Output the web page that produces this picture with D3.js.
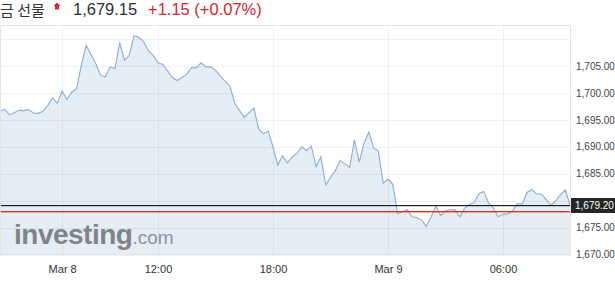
<!DOCTYPE html>
<html><head><meta charset="utf-8">
<script src="https://cdn.jsdelivr.net/npm/d3@7"></script>
<style>
body{margin:0;background:#fff;}
svg{display:block;font-family:"Liberation Sans",Arial,"Noto Sans CJK KR",sans-serif;}
</style>
</head><body>
<svg id="c" width="615" height="290"></svg>
<script>
// ---- data ----
const instrumentName = "금 선물";
const lastPriceText = "1,679.15";
const changeText = "+1.15 (+0.07%)";
const startTime = new Date(2021, 2, 8, 3, 45);
const stepMinutes = 15;
const prices = [
  1696.57,1696.95,1695.96,1696.33,1696.76,1696.70,1696.89,1696.26,1696.20,1696.57,
  1697.69,1699.05,1698.07,1700.36,1698.76,1700.12,1700.81,1705.15,1708.83,1707.15,
  1705.47,1703.29,1702.97,1704.83,1704.46,1709.38,1706.08,1706.96,1710.62,1710.32,
  1709.50,1707.82,1706.96,1705.58,1705.28,1704.09,1702.86,1702.30,1702.86,1703.47,
  1704.72,1704.69,1705.58,1704.83,1704.83,1704.22,1703.16,1702.17,1701.24,1698.12,
  1696.76,1695.45,1696.33,1697.19,1693.35,1692.41,1692.90,1689.92,1686.63,1688.31,
  1687.01,1688.05,1688.80,1689.99,1689.30,1690.10,1686.32,1688.18,1682.90,1684.32,
  1685.57,1687.44,1686.82,1686.19,1691.30,1687.16,1690.70,1692.71,1689.80,1689.11,
  1683.24,1683.99,1683.02,1677.61,1677.93,1678.35,1676.99,1676.86,1676.38,1675.26,
  1676.99,1678.99,1677.24,1678.11,1678.35,1678.24,1676.99,1678.62,1679.23,1679.66,
  1681.34,1681.71,1679.55,1678.62,1676.99,1677.50,1677.50,1678.11,1679.47,1679.36,
  1681.52,1682.08,1681.23,1681.23,1680.22,1679.10,1679.98,1681.10,1681.97,1679.20
];
const yTicks = [1670, 1675, 1680, 1685, 1690, 1695, 1700, 1705, 1710];
const yLabelTicks = [1670, 1675, 1685, 1690, 1695, 1700, 1705];
const xTickTimes = [
  new Date(2021, 2, 8, 7, 0), new Date(2021, 2, 8, 12, 0), new Date(2021, 2, 8, 18, 0),
  new Date(2021, 2, 9, 0, 0), new Date(2021, 2, 9, 6, 0)
];
const xTickLabels = ["Mar 8", "12:00", "18:00", "Mar 9", "06:00"];
const currentPrice = 1679.20;
const prevClose = 1678.00;
const brandName = "investing";
const brandSuffix = ".com";

// ---- layout ----
const svg = d3.select("#c");
const L = 0, R = 571, T = 25, B = 255;

const data = prices.map((p, i) => ({ t: new Date(startTime.getTime() + i * stepMinutes * 60000), v: p }));

const x = d3.scaleTime()
  .domain([new Date(2021, 2, 8, 12, 0), new Date(2021, 2, 9, 6, 0)])
  .range([158, 503]);
const y = d3.scaleLinear().domain([1670, 1710]).range([254.5, 39]);
const crisp = v => Math.round(v) + 0.5;

// title
svg.append("text").attr("x", 0).attr("y", 16).style("font-size", "15px")
  .style("font-family", "'Noto Sans CJK KR',sans-serif").attr("fill", "#333").text(instrumentName);
// small red up marker
svg.append("path").attr("d", "M57,2.5 L60.5,6 L59,6 L59,9.5 L55,9.5 L55,6 L53.5,6 Z").attr("fill", "#d4262b");
svg.append("text").attr("x", 73).attr("y", 15).style("font-size", "16.5px").attr("fill", "#2e2e3a").text(lastPriceText);
svg.append("text").attr("x", 148).attr("y", 15).style("font-size", "16.5px").attr("fill", "#d4262b").text(changeText);

// plot background
const g = svg.append("g");
g.append("rect").attr("x", L).attr("y", T).attr("width", R - L).attr("height", B - T).attr("fill", "#fff");

// area + line
const area = d3.area().x(d => x(d.t)).y0(B).y1(d => y(d.v));
const line = d3.line().x(d => x(d.t)).y(d => y(d.v));
g.append("path").datum(data).attr("d", area).attr("fill", "#e5edf5");

// gridlines
g.append("g").selectAll("line").data(yTicks).join("line")
  .attr("x1", L).attr("x2", R).attr("y1", d => crisp(y(d))).attr("y2", d => crisp(y(d)))
  .attr("stroke", "rgba(0,0,0,0.05)");
g.append("g").selectAll("line").data(xTickTimes).join("line")
  .attr("x1", d => crisp(x(d))).attr("x2", d => crisp(x(d))).attr("y1", T).attr("y2", B)
  .attr("stroke", "rgba(0,0,0,0.05)");

// watermark
const wm = g.append("text").attr("x", 14).attr("y", 244).attr("fill", "#7f8489");
wm.append("tspan").style("font-size", "28px").style("font-weight", "bold").style("letter-spacing", "-0.5px").text(brandName);
wm.append("tspan").style("font-size", "19px").attr("fill", "#8e9398").text(brandSuffix);

g.append("path").datum(data).attr("d", line).attr("fill", "none").attr("stroke", "#8eadcf").attr("stroke-width", 1.1);

// price lines
g.append("rect").attr("x", L).attr("y", Math.round(y(prevClose))).attr("width", R - L).attr("height", 1.4)
  .attr("fill", "#e0301f");
g.append("rect").attr("x", L).attr("y", Math.round(y(currentPrice))).attr("width", R - L).attr("height", 1.2)
  .attr("fill", "#1e1e1e");

// border
g.append("rect").attr("x", L + 0.5).attr("y", T + 0.5).attr("width", R - L - 1).attr("height", B - T - 1)
  .attr("fill", "none").attr("stroke", "#e4e4e4");

// y axis
const yAxis = d3.axisRight(y).tickValues(yLabelTicks).tickSize(0).tickPadding(5).tickFormat(d3.format(",.2f"));
const ya = svg.append("g").attr("transform", `translate(${R},0)`).call(yAxis);
ya.select(".domain").remove();
ya.selectAll("text").style("font-size", "10px").style("font-family", "'Liberation Sans',Arial,sans-serif").attr("fill", "#444");

// current price box
svg.append("rect").attr("x", R).attr("y", Math.round(y(currentPrice)) - 7).attr("width", 50).attr("height", 15).attr("fill", "#262626");
svg.append("text").attr("x", R + 4).attr("y", y(currentPrice) + 4).attr("fill", "#fff")
  .style("font-size", "10px").text(d3.format(",.2f")(currentPrice));

// x axis
const xAxis = d3.axisBottom(x).tickValues(xTickTimes).tickSize(0).tickPadding(10)
  .tickFormat((d, i) => xTickLabels[i]);
const xa = svg.append("g").attr("transform", `translate(0,${B})`).call(xAxis);
xa.select(".domain").remove();
xa.selectAll("text").style("font-size", "11px").style("font-family", "'Liberation Sans',Arial,sans-serif").attr("fill", "#333");
</script>
</body></html>
